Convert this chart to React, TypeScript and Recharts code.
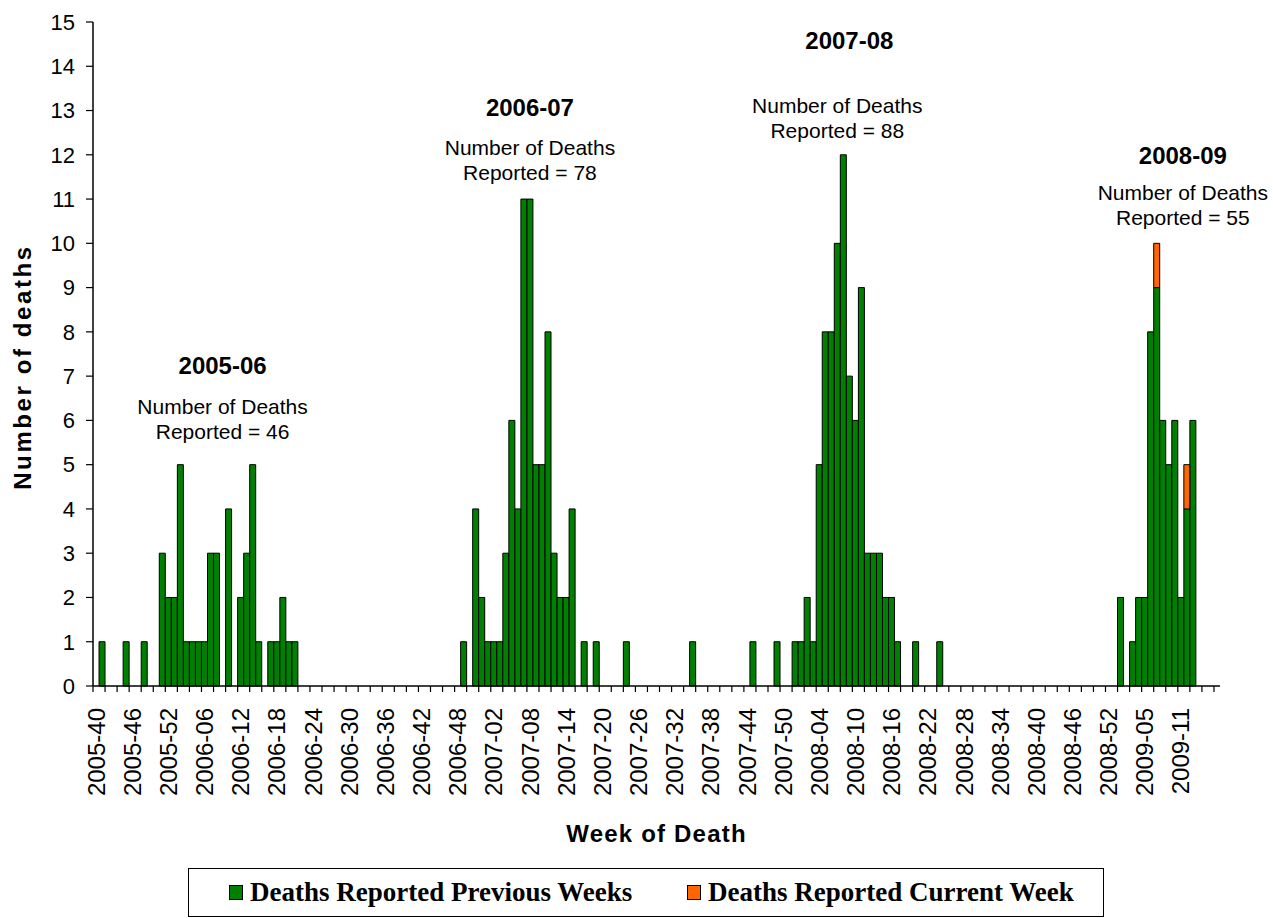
import React from 'react';
import { BarChart, Bar, XAxis, YAxis, ReferenceDot, Legend } from 'recharts';

const SANS = '"Liberation Sans", Arial, Helvetica, sans-serif';
const SERIF = '"Liberation Serif", "Times New Roman", serif';

// Category axis: ISO weeks from 2005-40 to 2009-17
const yearWeekRanges: [number, number, number][] = [
  [2005, 40, 52],
  [2006, 1, 52],
  [2007, 1, 52],
  [2008, 1, 53],
  [2009, 1, 17],
];
const weeks: string[] = [];
yearWeekRanges.forEach(([yr, from, to]) => {
  for (let w = from; w <= to; w++) weeks.push(`${yr}-${String(w).padStart(2, '0')}`);
});
// Last labelled week on the axis
const lastLabelledWeek = '2009-11';

// Deaths reported previous weeks, by season [week, count]
const previous2005_06: [string, number][] = [
  ['2005-41', 1], ['2005-45', 1], ['2005-48', 1], ['2005-51', 3], ['2005-52', 2],
  ['2006-01', 2], ['2006-02', 5], ['2006-03', 1], ['2006-04', 1], ['2006-05', 1],
  ['2006-06', 1], ['2006-07', 3], ['2006-08', 3], ['2006-10', 4], ['2006-12', 2],
  ['2006-13', 3], ['2006-14', 5], ['2006-15', 1], ['2006-17', 1], ['2006-18', 1],
  ['2006-19', 2], ['2006-20', 1], ['2006-21', 1],
];
const previous2006_07: [string, number][] = [
  ['2006-49', 1], ['2006-51', 4], ['2006-52', 2], ['2007-01', 1], ['2007-02', 1],
  ['2007-03', 1], ['2007-04', 3], ['2007-05', 6], ['2007-06', 4], ['2007-07', 11],
  ['2007-08', 11], ['2007-09', 5], ['2007-10', 5], ['2007-11', 8], ['2007-12', 3],
  ['2007-13', 2], ['2007-14', 2], ['2007-15', 4], ['2007-17', 1], ['2007-19', 1],
  ['2007-24', 1], ['2007-35', 1],
];
const previous2007_08: [string, number][] = [
  ['2007-45', 1], ['2007-49', 1], ['2007-52', 1], ['2008-01', 1], ['2008-02', 2],
  ['2008-03', 1], ['2008-04', 5], ['2008-05', 8], ['2008-06', 8], ['2008-07', 10],
  ['2008-08', 12], ['2008-09', 7], ['2008-10', 6], ['2008-11', 9], ['2008-12', 3],
  ['2008-13', 3], ['2008-14', 3], ['2008-15', 2], ['2008-16', 2], ['2008-17', 1],
  ['2008-20', 1], ['2008-24', 1],
];
const previous2008_09: [string, number][] = [
  ['2009-01', 2], ['2009-03', 1], ['2009-04', 2], ['2009-05', 2], ['2009-06', 8],
  ['2009-07', 9], ['2009-08', 6], ['2009-09', 5], ['2009-10', 6], ['2009-11', 2],
  ['2009-12', 4], ['2009-13', 6],
];
// Deaths reported current week
const currentWeek: [string, number][] = [['2009-07', 1], ['2009-12', 1]];

// Season annotations
const seasonNames = ['2005-06', '2006-07', '2007-08', '2008-09'];
const seasonTotals = [46, 78, 88, 55];

const seriesKeys = ['previous', 'current'];
const seriesNames = ['Deaths Reported Previous Weeks', 'Deaths Reported Current Week'];
const GREEN = '#008000';
const ORANGE = '#FF6600';
const seriesColors = [GREEN, ORANGE];

const prevMap = new Map<string, number>([
  ...previous2005_06, ...previous2006_07, ...previous2007_08, ...previous2008_09,
]);
const curMap = new Map<string, number>(currentWeek);
const data = weeks.map((week) => ({
  week,
  previous: prevMap.get(week) ?? 0,
  current: curMap.get(week) ?? 0,
}));

// Layout (positions of annotation anchors in data space)
const annotationLayout = [
  { titleWeek: '2006-09', titleY: 7.05, bodyWeek: '2006-09', bodyY: 6.15, dx: 0 },
  { titleWeek: '2007-08', titleY: 12.87, bodyWeek: '2007-08', bodyY: 12.0, dx: 0 },
  { titleWeek: '2008-09', titleY: 14.4, bodyWeek: '2008-07', bodyY: 12.95, dx: 0 },
  { titleWeek: '2009-12', titleY: 11.8, bodyWeek: '2009-12', bodyY: 10.97, dx: -4 },
];

const W = 1273;
const H = 918;
const MARGIN = { top: 22, right: 53, left: 0, bottom: 0 };
const Y_AXIS_W = 93;
const X_AXIS_H = 232;
const BAND = (W - MARGIN.left - MARGIN.right - Y_AXIS_W) / weeks.length;
const LAST_LABEL_INDEX = weeks.indexOf(lastLabelledWeek);

const XTick = (props: any) => {
  const { x, y, index, payload } = props;
  const left = x - BAND / 2;
  return (
    <g>
      {index % 2 === 0 && (
        <line x1={left} x2={left} y1={y} y2={y + 6} stroke="#000" strokeWidth={1.2} />
      )}
      {index % 6 === 0 && index <= LAST_LABEL_INDEX && (
        <text
          x={0}
          y={0}
          transform={`translate(${x},${y + 22}) rotate(-90)`}
          textAnchor="end"
          dy="0.36em"
          fontSize={24}
          fontFamily={SANS}
          fill="#000"
        >
          {payload.value}
        </text>
      )}
    </g>
  );
};

const XTitle = (props: any) => {
  const vb = props.viewBox || {};
  return (
    <text
      x={vb.x + vb.width / 2}
      y={vb.y + 156}
      textAnchor="middle"
      fontSize={24}
      fontWeight="bold"
      letterSpacing={1.2}
      fontFamily={SANS}
      fill="#000"
    >
      Week of Death
    </text>
  );
};

const YTitle = (props: any) => {
  const vb = props.viewBox || {};
  const cy = vb.y + vb.height / 2 + 13;
  return (
    <text
      x={0}
      y={0}
      transform={`translate(31,${cy}) rotate(-90)`}
      textAnchor="middle"
      fontSize={24}
      fontWeight="bold"
      letterSpacing={2.6}
      fontFamily={SANS}
      fill="#000"
    >
      Number of deaths
    </text>
  );
};

const TitleText = (props: any) => {
  const vb = props.viewBox || {};
  return (
    <text
      x={vb.x + (props.dx || 0)}
      y={vb.y}
      textAnchor="middle"
      fontSize={24}
      fontWeight="bold"
      fontFamily={SANS}
      fill="#000"
    >
      {props.text}
    </text>
  );
};

const BodyText = (props: any) => {
  const vb = props.viewBox || {};
  const x = vb.x + (props.dx || 0);
  return (
    <text textAnchor="middle" fontSize={21} fontFamily={SANS} fill="#000">
      <tspan x={x} y={vb.y}>Number of Deaths</tspan>
      <tspan x={x} y={vb.y + 25}>{`Reported = ${props.total}`}</tspan>
    </text>
  );
};

const LegendBox = () => {
  const lefts = [40, 498];
  return (
    <div
      style={{
        position: 'relative',
        boxSizing: 'border-box',
        width: 916,
        height: 49,
        border: '1px solid #000',
        background: '#fff',
        fontFamily: SERIF,
        fontWeight: 'bold',
        fontSize: 27,
        color: '#000',
      }}
    >
      {seriesKeys.map((key, i) => (
        <div
          key={key}
          style={{
            position: 'absolute',
            left: lefts[i],
            top: 0,
            height: 47,
            display: 'flex',
            alignItems: 'center',
            whiteSpace: 'nowrap',
          }}
        >
          <span
            style={{
              display: 'inline-block',
              boxSizing: 'border-box',
              width: 14,
              height: 15,
              background: seriesColors[i],
              border: '1px solid #000',
              marginRight: 7,
            }}
          />
          <span>{seriesNames[i]}</span>
        </div>
      ))}
    </div>
  );
};

export default function App() {
  return (
    <div style={{ position: 'absolute', left: 0, top: 0, width: W, height: H, background: '#fff' }}>
      <BarChart
        width={W}
        height={H}
        data={data}
        margin={MARGIN}
        barCategoryGap={0}
        barGap={0}
      >
        <XAxis
          dataKey="week"
          interval={0}
          height={X_AXIS_H}
          tickLine={false}
          tickSize={0}
          tickMargin={0}
          tick={<XTick />}
          axisLine={{ stroke: '#000', strokeWidth: 1.5 }}
          label={<XTitle />}
        />
        <YAxis
          width={Y_AXIS_W}
          domain={[0, 15]}
          ticks={[0, 1, 2, 3, 4, 5, 6, 7, 8, 9, 10, 11, 12, 13, 14, 15]}
          interval={0}
          tickSize={7}
          tickMargin={11}
          tick={{ fontSize: 22, fontFamily: SANS, fill: '#000' }}
          tickLine={{ stroke: '#000', strokeWidth: 1.2 }}
          axisLine={{ stroke: '#000', strokeWidth: 1.5 }}
          allowDecimals={false}
          label={<YTitle />}
        />
        <Legend
          verticalAlign="middle"
          align="center"
          layout="horizontal"
          wrapperStyle={{ left: 188, top: 868, width: 916, height: 49 }}
          content={<LegendBox />}
        />
        <Bar
          dataKey={seriesKeys[0]}
          name={seriesNames[0]}
          stackId="deaths"
          fill={GREEN}
          stroke="#000"
          strokeWidth={1}
          isAnimationActive={false}
        />
        <Bar
          dataKey={seriesKeys[1]}
          name={seriesNames[1]}
          stackId="deaths"
          fill={ORANGE}
          stroke="#000"
          strokeWidth={1}
          isAnimationActive={false}
        />
        {annotationLayout.map((a, i) => (
          <ReferenceDot
            key={`t${i}`}
            x={a.titleWeek}
            y={a.titleY}
            r={0}
            fill="none"
            stroke="none"
            label={<TitleText text={seasonNames[i]} dx={a.dx} />}
          />
        ))}
        {annotationLayout.map((a, i) => (
          <ReferenceDot
            key={`b${i}`}
            x={a.bodyWeek}
            y={a.bodyY}
            r={0}
            fill="none"
            stroke="none"
            label={<BodyText total={seasonTotals[i]} dx={a.dx} />}
          />
        ))}
      </BarChart>
    </div>
  );
}
